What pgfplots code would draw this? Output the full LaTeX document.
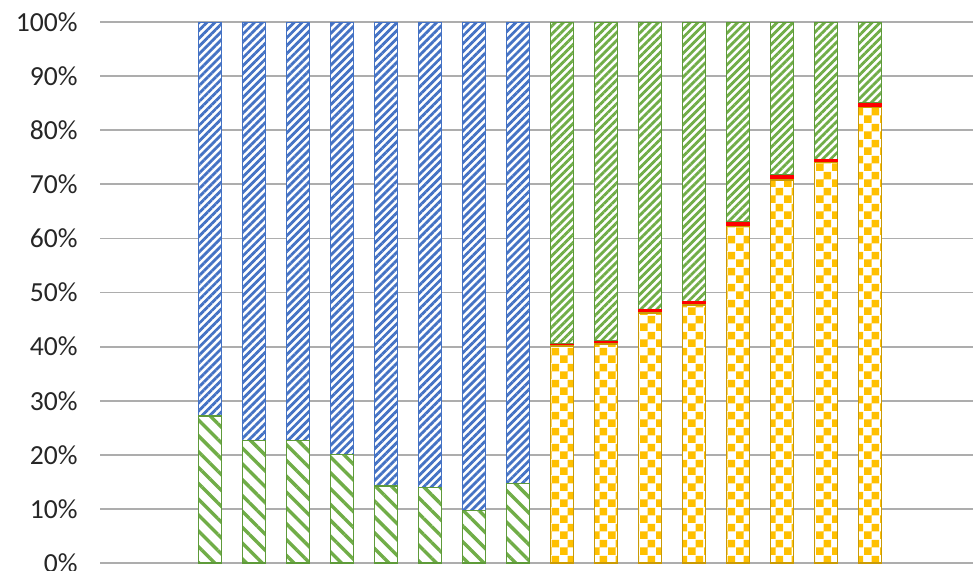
\documentclass[border=0pt]{standalone}
\usepackage{pgfplots}
\pgfplotsset{compat=1.18}
\usepackage{fontspec}
\setmainfont{Carlito}
\usetikzlibrary{patterns.meta}

\definecolor{xlblue}{HTML}{4472C4}
\definecolor{xlgreen}{HTML}{70AD47}
\definecolor{xlgreendk}{HTML}{5E9A3A}
\definecolor{xlorange}{HTML}{FFC000}
\definecolor{xlorangedk}{HTML}{C99A06}
\definecolor{xlred}{HTML}{FF0000}
\definecolor{gridgray}{HTML}{ADADAD}
\definecolor{labelgray}{HTML}{262626}

% large checkerboard, 4pt squares
\pgfdeclarepattern{
  name=bigchecker,
  type=uncolored,
  bottom left={\pgfpointorigin},
  top right={\pgfpoint{8pt}{8pt}},
  tile size={\pgfpoint{8pt}{8pt}},
  code={
    \pgfpathrectangle{\pgfpointorigin}{\pgfpoint{4pt}{4pt}}
    \pgfpathrectangle{\pgfpoint{4pt}{4pt}}{\pgfpoint{4pt}{4pt}}
    \pgfusepath{fill}
  }
}

\pgfplotstableread{
x  low   high
2  27.2  72.8
3  22.6  77.4
4  22.6  77.4
5  20.1  79.9
6  14.2  85.8
7  14.0  86.0
8   9.7  90.3
9  14.7  85.3
}\groupA

\pgfplotstableread{
x   orange red  green
10  40.1   0.4  59.5
11  40.5   0.5  59.0
12  46.2   0.6  53.2
13  47.7   0.6  51.7
14  62.2   0.8  37.0
15  70.8   0.9  28.3
16  74.0   0.6  25.4
17  84.2   0.8  15.0
}\groupB

\pgfplotsset{
  base/.style={
    scale only axis,
    width=436.5pt, height=270.5pt,
    at={(0,0)}, anchor=south west,
    xmin=-0.5, xmax=19.34,
    ymin=0, ymax=100,
    ybar stacked, bar width=11.5pt,
  },
}

\begin{document}
\begin{tikzpicture}
\begin{axis}[
  base,
  axis line style={draw=none},
  major tick length=0pt,
  xtick=\empty,
  ytick={0,10,...,100},
  ymajorgrids,
  grid style={gridgray, line width=0.9pt},
  /pgf/number format/assume math mode=true,
  yticklabel={\pgfmathprintnumber{\tick}\%},
  yticklabel style={font=\fontsize{13.8}{16}\selectfont, text=labelgray,
    inner sep=0pt, xshift=-11pt},
]
\addplot[draw=xlgreendk, line width=0.75pt, fill=white,
  postaction={pattern={Lines[angle=-45,distance=5.6pt,line width=1.7pt]}, pattern color=xlgreen}]
  table[x=x, y=low] {\groupA};
\addplot[draw=xlblue, line width=0.75pt, fill=white,
  postaction={pattern={Lines[angle=45,distance=2.8pt,line width=1.4pt]}, pattern color=xlblue}]
  table[x=x, y=high] {\groupA};
\end{axis}

\begin{axis}[base, hide axis]
\addplot[draw=xlorangedk, line width=0.75pt, fill=white,
  postaction={pattern=bigchecker, pattern color=xlorange}]
  table[x=x, y=orange] {\groupB};
\addplot[draw=xlred, line width=0.4pt, fill=xlred]
  table[x=x, y=red] {\groupB};
\addplot[draw=xlgreendk, line width=0.75pt, fill=white,
  postaction={pattern={Lines[angle=45,distance=2.8pt,line width=1.4pt]}, pattern color=xlgreen}]
  table[x=x, y=green] {\groupB};
\end{axis}

\pgfresetboundingbox
\path[use as bounding box] (-50pt,-3.5pt) rectangle (436.5pt,281.5pt);
\end{tikzpicture}
\end{document}
